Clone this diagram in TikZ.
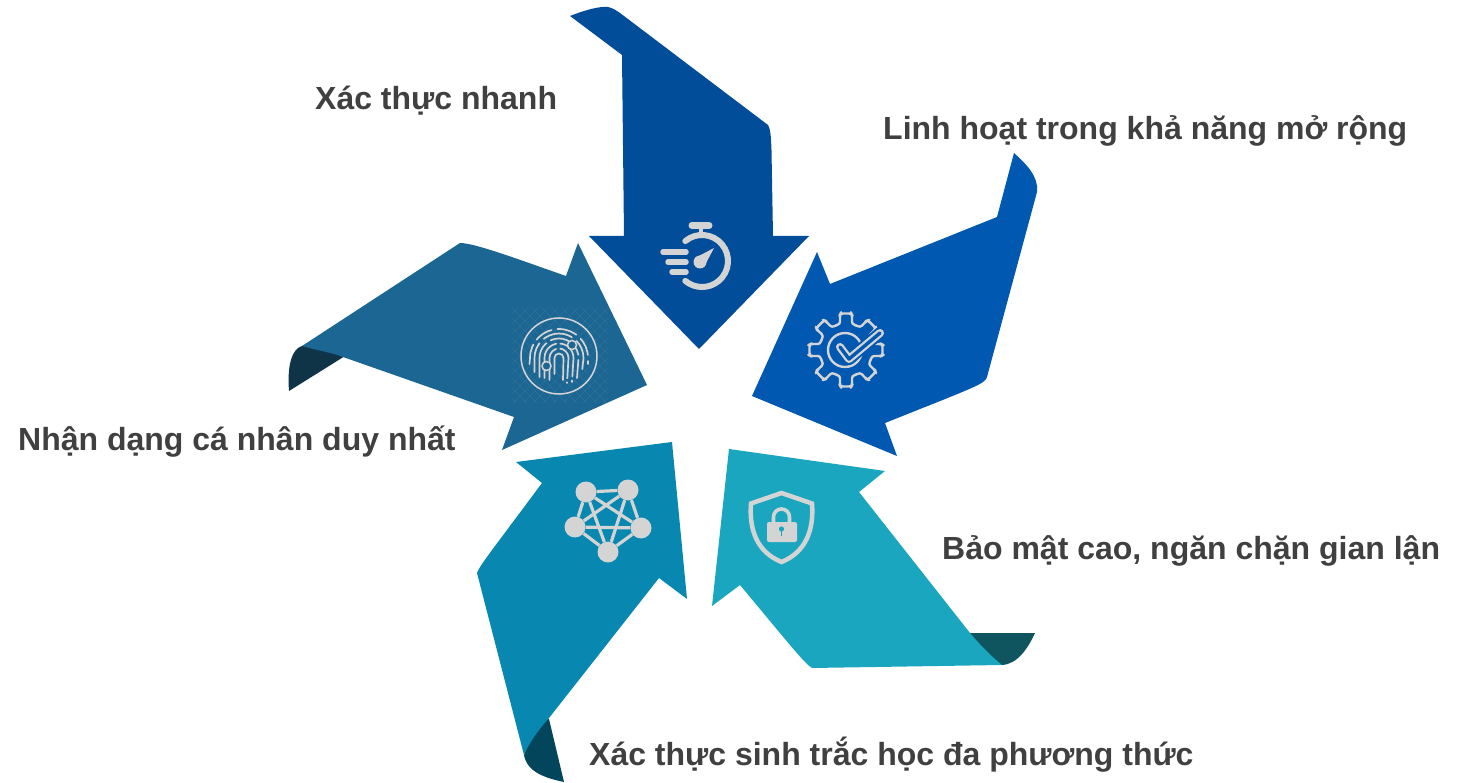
\documentclass[tikz,border=0pt]{standalone}
\usepackage{fontspec}
\setmainfont{Liberation Sans}
\definecolor{txt}{HTML}{404040}
\definecolor{iconc}{HTML}{D4D4D4}
\definecolor{ca}{HTML}{024D99}
\definecolor{cb}{HTML}{0058B1}
\definecolor{cc}{HTML}{1C6694}
\definecolor{cd}{HTML}{0888B1}
\definecolor{ce}{HTML}{1BA6C0}
\definecolor{fc}{HTML}{0F3448}
\definecolor{fd}{HTML}{03465C}
\definecolor{fe}{HTML}{0E555F}
\definecolor{hatchc}{HTML}{2C7199}
\tikzset{
  x=1pt,y=1pt,
  label text/.style={anchor=base west,inner sep=0pt,text=txt,font=\fontsize{32}{38}\selectfont\bfseries},
  icon line/.style={draw=iconc,line cap=round,line join=round},
  netnode/.style={circle,fill=iconc,inner sep=0pt,minimum size=21pt}
}
\begin{document}
\begin{tikzpicture}
\useasboundingbox (0,0) rectangle (1457,-783);
% arrow 1
\fill[ca] (570,-16) .. controls (585,-10) and (600,-6) .. (608,-7) .. controls (613,-8) and (617,-11) .. (620,-13)
  -- (768,-125) .. controls (771,-130) and (771,-140) .. (771.5,-150) -- (773,-236) -- (809,-236) -- (699,-349)
  -- (589,-236) -- (624,-236) -- (622,-55) -- cycle;
% arrow 2
\fill[cb] (1014,-153) .. controls (1025,-163) and (1039,-176) .. (1037,-192)
  -- (987,-377) .. controls (985,-384) and (975,-387) .. (885,-423) -- (897,-456) -- (752,-396)
  -- (817,-252) -- (830,-284) -- (997,-217) -- cycle;
% arrow 3
\fill[fc] (302,-346) .. controls (292,-349) and (287,-365) .. (289,-391) -- (345,-356) -- (330,-340) -- cycle;
\fill[cc] (302,-346) -- (460,-243) .. controls (475,-243) and (520,-260) .. (566,-276) -- (578,-243) -- (647,-385)
  -- (502,-450) -- (514,-417) -- (343,-357) .. controls (330,-352) and (315,-350) .. (302,-346) -- cycle;
% arrow 4
\fill[fd] (549,-719) -- (564,-782) .. controls (545,-778) and (527,-772) .. (524,-755) -- (535,-722) -- cycle;
\fill[cd] (516,-462) -- (672,-442) -- (687,-599) -- (659,-578) -- (549,-718) .. controls (538,-730) and (528,-745) .. (524,-755)
  -- (477,-573) .. controls (480,-565) and (490,-553) .. (542,-483) -- cycle;
% arrow 5
\fill[fe] (970,-633) -- (1035,-633) .. controls (1028,-648) and (1018,-664) .. (1002,-665) -- (975,-655) -- cycle;
\fill[ce] (729,-449) -- (885,-471) -- (859,-492) -- (970,-633) .. controls (980,-645) and (992,-657) .. (1002,-665)
  -- (812,-668) .. controls (805,-664) and (790,-645) .. (740,-585) -- (712,-606) -- cycle;

% stopwatch
\draw[icon line,line width=6] (702,-261) ++(130:26) arc[start angle=130,end angle=-130,radius=26];
\draw[icon line,line width=7] (692,-225.5) -- (709,-225.5);
\draw[icon line,line width=4.5] (701,-228) -- (701,-236);
\draw[icon line,line width=5.5] (663,-252) -- (686,-252);
\draw[icon line,line width=5.5] (668,-262) -- (686,-262);
\draw[icon line,line width=5.5] (672,-272) -- (686,-272);
\fill[iconc] (700,-262) circle[radius=6.5];
\fill[iconc] (695,-258) -- (714,-248) -- (704,-267) -- cycle;

% gear
\begin{scope}[shift={(846,-350)}]
\foreach \a in {0,45,...,315}{
  \begin{scope}[rotate=\a]
  \draw[icon line,line width=2.4,rounded corners=2.5] (-22.5:26.5) arc[start angle=-22.5,end angle=-13,radius=26.5]
     -- (35.5,-6) -- (36.5,-5.5) -- (36.5,5.5) -- (35.5,6) -- (13:26.5) arc[start angle=13,end angle=22.5,radius=26.5];
  \end{scope}
}
\end{scope}
\draw[icon line,line width=2.4] (845,-350) circle[radius=17];
\draw[cb,line width=12,line join=round,line cap=round] (840,-347) -- (849,-359) -- (880,-333);
\draw[iconc,line width=8,line join=round,line cap=round] (840,-347) -- (849,-359) -- (880,-333);
\draw[cb,line width=3.4,line join=round,line cap=round] (840,-347) -- (849,-359) -- (880,-333);

% fingerprint hatch
\begin{scope}
\clip (512,-308) rectangle (608,-403);
\foreach \k in {-100,-90,...,100}{
  \draw[hatchc,line width=.6] (560+\k-60,-356+60) -- (560+\k+60,-356-60);
  \draw[hatchc,line width=.6] (560+\k-60,-356-60) -- (560+\k+60,-356+60);
}
\end{scope}
% fingerprint
\draw[iconc,line width=1.5] (559,-356) circle[radius=38];
\begin{scope}[line cap=round,iconc,line width=1.7]
\draw (554.5,-374) -- (554.5,-358) arc[start angle=180,end angle=0,radius=4.5] -- (563,-380);
\draw[dash pattern=on 34 off 4] (549.5,-380) -- (549.5,-358) arc[start angle=180,end angle=0,radius=9.5] -- (567,-383);
\draw[dash pattern=on 40 off 4] (544.5,-378) -- (544.5,-358) arc[start angle=180,end angle=0,radius=14.5] -- (572,-382);
\draw[dash pattern=on 36 off 5] (539.5,-377) -- (539.5,-358) arc[start angle=180,end angle=0,radius=19.5] -- (577,-378);
\draw[dash pattern=on 30 off 6] (534.5,-372) -- (534.5,-358) arc[start angle=180,end angle=0,radius=24.5] -- (582,-372);
\draw[dash pattern=on 20 off 6 on 18 off 6] (529.5,-364) -- (530,-358) arc[start angle=180,end angle=0,radius=29] -- (588,-364);
\end{scope}
\draw[iconc,fill=cc,line width=1.5] (572,-345) circle[radius=4.5];
\draw[iconc,fill=cc,line width=1.5] (546.5,-366) circle[radius=4.5];

% network
\node[netnode] (n1) at (586,-492) {};
\node[netnode] (n2) at (628,-490) {};
\node[netnode] (n3) at (641,-528) {};
\node[netnode] (n4) at (608,-552) {};
\node[netnode] (n5) at (575,-527) {};
\foreach \p/\q in {n1/n2,n1/n3,n1/n4,n1/n5,n2/n3,n2/n4,n2/n5,n3/n4,n3/n5,n4/n5}{
  \draw[iconc,line width=3.2] (\p) -- (\q);
}

% shield
\draw[iconc,line width=4.5,line join=miter] (781.5,-493) -- (751,-503.5) .. controls (749,-530) and (757,-552) .. (781.5,-562)
  .. controls (806,-552) and (814,-530) .. (812,-503.5) -- cycle;
\fill[iconc,rounded corners=2] (767,-522) rectangle (797,-542);
\draw[iconc,line width=3.6] (773.5,-523) -- (773.5,-517) arc[start angle=180,end angle=0,radius=8] -- (789.5,-523);
\fill[ce] (781.5,-529) circle[radius=2.6];
\draw[ce,line width=1.8] (781.5,-530) -- (781.5,-536);

% labels
\node[label text] (t1) at (315,-110) {Xác thực nhanh};
\node[label text] (t2) at (883,-140) {Linh hoạt trong khả năng mở rộng};
\node[label text] (t3) at (18,-451) {Nhận dạng cá nhân duy nhất};
\node[label text] (t4) at (942,-559) {Bảo mật cao, ngăn chặn gian lận};
\node[label text] (t5) at (589,-765) {Xác thực sinh trắc học đa phương thức};
\end{tikzpicture}
\end{document}
